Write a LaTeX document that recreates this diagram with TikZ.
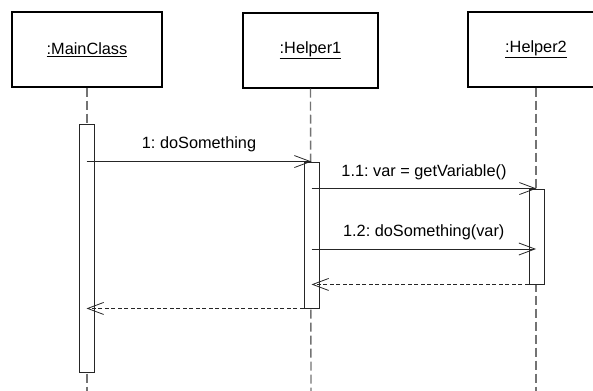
\documentclass[tikz,border=0pt]{standalone}
\usepackage{fontspec}
\setmainfont{Liberation Sans}
\usetikzlibrary{arrows.meta}
\frenchspacing
\begin{document}
\begin{tikzpicture}[x=1pt,y=-1pt,
  objbox/.style={draw=black,line width=1.4pt,fill=white,inner sep=0pt,minimum height=75pt,font=\fontsize{16.3}{19}\selectfont},
  lifeline/.style={draw=black!55,line width=1.4pt,dash pattern=on 9pt off 4pt},
  actbar/.style={draw=black!85,line width=0.9pt,fill=white,inner sep=0pt,minimum width=15pt},
  msg/.style={draw=black!85,line width=0.9pt,-{Straight Barb[length=16pt,width=12pt,line width=0.8pt]}},
  retmsg/.style={msg,dash pattern=on 4pt off 2.5pt},
  lbl/.style={font=\fontsize{16.3}{19}\selectfont,anchor=base,inner sep=0pt}]
\useasboundingbox (0,0) rectangle (593,390);
% object boxes
\node[objbox,minimum width=150pt] (main) at (87,49.5) {\underline{:MainClass}};
\node[objbox,minimum width=135pt] (h1) at (310.5,50.5) {\underline{:Helper1}};
\node[objbox,minimum width=136pt] (h2) at (536,49.5) {\underline{:Helper2}};
% lifelines
\coordinate (mainEnd) at (87,392);
\coordinate (h1End) at (311,392);
\coordinate (h2End) at (536,392);
\draw[lifeline] (main.south) -- (mainEnd);
\draw[lifeline] (h1.south) -- (h1End);
\draw[lifeline] (h2.south) -- (h2End);
% activation bars
\node[actbar,minimum height=248pt] (mainbar) at (86.5,248) {};
\node[actbar,minimum height=146pt] (h1bar) at (311.5,235) {};
\node[actbar,minimum height=95pt] (h2bar) at (536.5,236.5) {};
% messages
\draw[msg] (mainbar |- h1bar.north) -- node[lbl,midway,yshift=13pt]{1: doSomething} (h1bar.north);
\draw[msg] (h1bar |- h2bar.north) -- node[lbl,midway,yshift=12pt]{1.1: var = getVariable()} (h2bar.north);
\coordinate (m12) at (536,249);
\draw[msg] (h1bar |- m12) -- node[lbl,midway,yshift=13pt]{1.2: doSomething(var)} (m12);
\draw[retmsg] (h2bar.south west) -- (h1bar |- h2bar.south);
\draw[retmsg] (h1bar.south west) -- (mainbar |- h1bar.south);
\end{tikzpicture}
\end{document}
